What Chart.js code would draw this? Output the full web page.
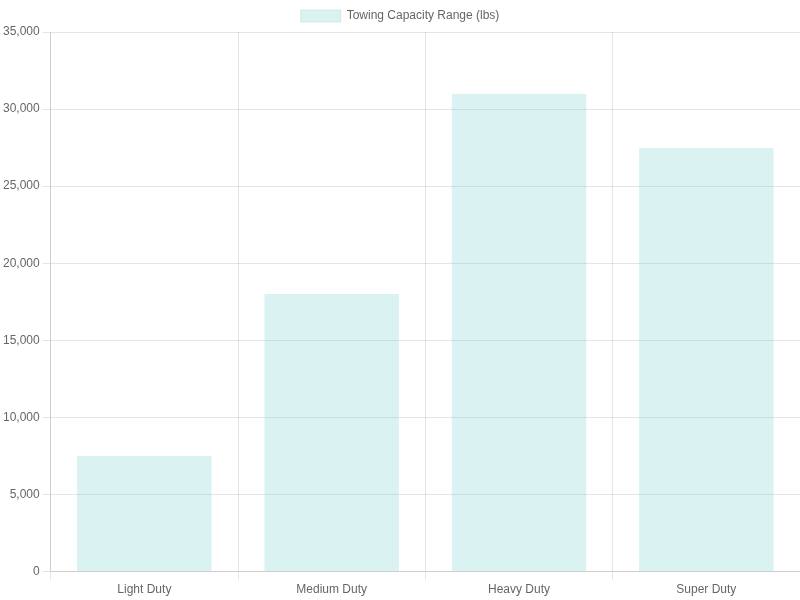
<!DOCTYPE html>
<html>
<head>
<meta charset="utf-8">
<script src="https://cdn.jsdelivr.net/npm/chart.js@4/dist/chart.umd.min.js"></script>
<style>
  html, body { margin: 0; padding: 0; background: #fff; }
  #wrap { width: 800px; height: 600px; }
</style>
</head>
<body>
<div id="wrap"><canvas id="chart"></canvas></div>
<script>
// truck classes and their max towing capacity
var categories = ["Light Duty", "Medium Duty", "Heavy Duty", "Super Duty"];
var towingValues = [7500, 18000, 31000, 27500];
var seriesLabel = "Towing Capacity Range (lbs)";

new Chart(document.getElementById("chart").getContext("2d"), {
  type: "bar",
  data: {
    labels: categories,
    datasets: [{
      label: seriesLabel,
      data: towingValues,
      backgroundColor: "rgba(75, 192, 192, 0.2)",
      borderColor: "rgba(75, 192, 192, 0.2)",
      borderWidth: 1
    }]
  },
  options: {
    responsive: true,
    maintainAspectRatio: false,
    animation: false,
    scales: {
      y: {
        beginAtZero: true,
        max: 35000,
        ticks: { stepSize: 5000 }
      }
    }
  }
});
</script>
</body>
</html>
